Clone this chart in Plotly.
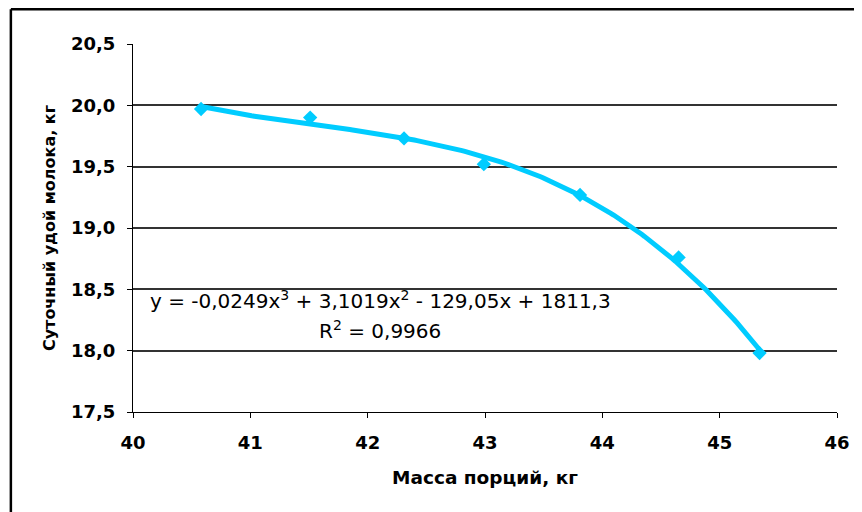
import numpy as np
import plotly.graph_objects as go

# Data
portion_mass = [40.58, 41.51, 42.31, 42.99, 43.81, 44.65, 45.34]
daily_milk = [19.97, 19.90, 19.73, 19.52, 19.27, 18.76, 17.98]

x_ticks = [40, 41, 42, 43, 44, 45, 46]
x_tick_labels = ["40", "41", "42", "43", "44", "45", "46"]
y_ticks = [17.5, 18.0, 18.5, 19.0, 19.5, 20.0, 20.5]
y_tick_labels = ["17,5", "18,0", "18,5", "19,0", "19,5", "20,0", "20,5"]

x_title = "Масса порций, кг"
y_title = "Суточный удой молока, кг"
eq_line1 = "y = -0,0249x<sup>3</sup> + 3,1019x<sup>2</sup> - 129,05x + 1811,3"
eq_line2 = "R<sup>2</sup> = 0,9966"

# Polynomial (3rd order) trend line fitted to the data, as in the original chart
coef = np.polyfit(portion_mass, daily_milk, 3)
trend_x = np.linspace(min(portion_mass), max(portion_mass), 200)
trend_y = np.polyval(coef, trend_x)

CYAN = "#00CCFF"
FONT = "DejaVu Sans"

fig = go.Figure()
fig.add_trace(go.Scatter(x=trend_x, y=trend_y, mode="lines",
                         line=dict(color=CYAN, width=5), hoverinfo="skip",
                         showlegend=False))
fig.add_trace(go.Scatter(x=portion_mass, y=daily_milk, mode="markers",
                         marker=dict(symbol="diamond", size=11, color=CYAN),
                         showlegend=False))

OFF = 8  # page body margin
W, H = 862 - OFF, 512 - OFF
L, R, T, B = 125, 20, 36, 100
pw, ph = W - L - R, H - T - B

def px_x(p):
    return (p - OFF - L) / pw

def px_y(p):
    return (H - B - (p - OFF)) / ph

fig.update_layout(
    width=W, height=H, autosize=False,
    margin=dict(l=L, r=R, t=T, b=B, pad=0),
    paper_bgcolor="white", plot_bgcolor="white",
    font=dict(family=FONT, color="black"),
    xaxis=dict(range=[40, 46], tickvals=x_ticks, ticktext=x_tick_labels,
               showgrid=False, zeroline=False, showline=True,
               linecolor="black", linewidth=1, ticks="outside", ticklen=5,
               tickcolor="black", tickfont=dict(size=18, family=FONT, weight="bold"),
               ticklabelstandoff=9,
               title=dict(text="<b>" + x_title + "</b>", font=dict(size=18.5, family=FONT),
                          standoff=19)),
    yaxis=dict(range=[17.5, 20.5], tickvals=y_ticks, ticktext=y_tick_labels,
               showgrid=True, gridcolor="#333333", gridwidth=1.5, zeroline=False,
               showline=True, linecolor="black", linewidth=1, ticks="outside",
               ticklen=5, tickcolor="black",
               tickfont=dict(size=18, family=FONT, weight="bold"),
               ticklabelstandoff=8,
               title=dict(text="<b>" + y_title + "</b>", font=dict(size=16, family=FONT),
                          standoff=11)),
    annotations=[
        dict(text=eq_line1, x=px_x(382), y=px_y(300), xref="paper", yref="paper",
             showarrow=False, font=dict(size=20, family=FONT), xanchor="center",
             yanchor="middle"),
        dict(text=eq_line2, x=px_x(382), y=px_y(330), xref="paper", yref="paper",
             showarrow=False, font=dict(size=20, family=FONT), xanchor="center",
             yanchor="middle"),
    ],
    shapes=[
        dict(type="line", xref="paper", yref="paper", x0=px_x(10), x1=px_x(10),
             y0=px_y(9.3), y1=px_y(600), line=dict(color="black", width=2.5)),
        dict(type="line", xref="paper", yref="paper", x0=px_x(10), x1=px_x(900),
             y0=px_y(9.3), y1=px_y(9.3), line=dict(color="black", width=2.5)),
    ],
)

fig.write_html("out.html")
